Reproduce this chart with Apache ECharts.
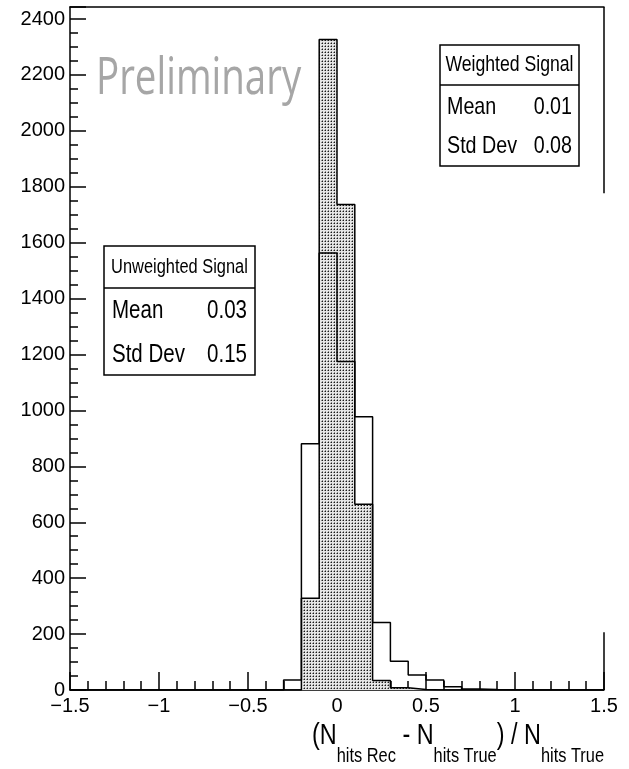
<!DOCTYPE html>
<html><head><meta charset="utf-8">
<script src="https://cdn.jsdelivr.net/npm/echarts@6/dist/echarts.min.js"></script>
<style>html,body{margin:0;padding:0;background:#fff}#c{width:629px;height:769px}</style>
</head><body><div id="c"></div>
<script>
// ---- data ----
const binEdges = [-1.5,-1.4,-1.3,-1.2,-1.1,-1.0,-0.9,-0.8,-0.7,-0.6,-0.5,-0.4,-0.3,-0.2,-0.1,0.0,0.1,0.2,0.3,0.4,0.5,0.6,0.7,0.8,0.9,1.0,1.1,1.2,1.3,1.4,1.5];
const unweightedCounts = [0,0,0,0,0,0,0,0,0,0,0,0,36,881,1563,1175,977,241,103,54,36,12,4,2,1,0,0,0,0,0];
const weightedCounts   = [0,0,0,0,0,0,0,0,0,0,0,0,0,328,2327,1737,664,34,8,2,0,0,0,0,0,0,0,0,0,0];
const xTickValues = [-1.5,-1,-0.5,0,0.5,1,1.5];
const xTickLabels = ['\u22121.5','\u22121','\u22120.5','0','0.5','1','1.5'];
const yTickLabels = ['0','200','400','600','800','1000','1200','1400','1600','1800','2000','2200','2400'];
const yMax = 2443;
const frameRightSegments = [[0,207],[1777,2443]];
const weightedStats = {title:'Weighted Signal', mean:'0.01', std:'0.08'};
const unweightedStats = {title:'Unweighted Signal', mean:'0.03', std:'0.15'};

function stepData(counts){
  const d = counts.map((v,i)=>[binEdges[i], v]);
  d.push([binEdges[binEdges.length-1], 0]);
  return d;
}
function dotPattern(){
  const c = document.createElement('canvas'); c.width = 3; c.height = 3;
  const g = c.getContext('2d');
  g.fillStyle = '#e6e6e6'; g.fillRect(0,0,3,3);
  g.fillStyle = '#1a1a1a';
  g.fillRect(1,1,1,1);
  g.fillStyle = '#8a8a8a';
  g.fillRect(0,1,1,1); g.fillRect(1,0,1,1);
  return c;
}
const SANS = '"Liberation Sans",Arial,sans-serif';
const SX = 0.82;

function txt(x, y, text, size, align, extra){
  return Object.assign({type:'text', x:x, y:y, scaleX:SX, scaleY:1,
    style:{text:text, fontFamily:SANS, fontSize:size, fill:'#000', align:align, verticalAlign:'middle'}, z:11}, extra||{});
}
function statBox(s, x, y, w, h, divY, titleSize, bodySize, rowY1, rowY2, pad){
  return [
    {type:'rect', shape:{x:x, y:y, width:w, height:h}, style:{fill:'#fff', stroke:'#000', lineWidth:1.5}, z:10},
    {type:'line', shape:{x1:x, y1:divY, x2:x+w, y2:divY}, style:{stroke:'#000', lineWidth:1.5}, z:11},
    txt(x+w/2, (y+divY)/2, s.title, titleSize, 'center'),
    txt(x+pad, rowY1, 'Mean', bodySize, 'left'),
    txt(x+w-pad, rowY1, s.mean, bodySize, 'right'),
    txt(x+pad, rowY2, 'Std Dev', bodySize, 'left'),
    txt(x+w-pad, rowY2, s.std, bodySize, 'right')
  ];
}

const chart = echarts.init(document.getElementById('c'), null, {renderer:'canvas'});
const option = {
  animation:false,
  backgroundColor:'#fff',
  grid:{left:70, right:25, top:7, bottom:79},
  xAxis:[
    {type:'value', min:-1.5, max:1.5, interval:0.5, position:'bottom',
     axisLine:{show:true, onZero:false, lineStyle:{color:'#000', width:1.5}},
     axisTick:{show:true, inside:true, length:18, lineStyle:{color:'#000', width:1.5}},
     minorTick:{show:true, splitNumber:5, length:9, lineStyle:{color:'#000', width:1.5}},
     splitLine:{show:false},
     axisLabel:{margin:6, color:'#000', fontFamily:SANS, fontSize:20,
       formatter:function(v){ for(let i=0;i<xTickValues.length;i++){ if(Math.abs(xTickValues[i]-v)<1e-6) return xTickLabels[i]; } return ''; }}
    },
    {type:'value', min:-1.5, max:1.5, position:'top',
     axisLine:{show:true, onZero:false, lineStyle:{color:'#000', width:1.5}},
     axisTick:{show:false}, axisLabel:{show:false}, splitLine:{show:false}}
  ],
  yAxis:[
    {type:'value', min:0, max:yMax, interval:200, position:'left',
     axisLine:{show:true, onZero:false, lineStyle:{color:'#000', width:1.5}},
     axisTick:{show:true, inside:true, length:16, lineStyle:{color:'#000', width:1.5}},
     splitLine:{show:false},
     axisLabel:{margin:5, color:'#000', fontFamily:SANS, fontSize:20,
       formatter:function(v){ const i = Math.round(v/200); return (Math.abs(v - i*200)<1e-6 && i<yTickLabels.length) ? yTickLabels[i] : ''; }}
    },
    {type:'value', min:0, max:yMax, interval:50, position:'left', offset:0,
     axisLine:{show:false, onZero:false},
     axisTick:{show:true, inside:true, length:8, lineStyle:{color:'#000', width:1.5}},
     axisLabel:{show:false}, splitLine:{show:false}}
  ],
  series:[
    {name:'Weighted Signal', type:'line', step:'end', symbol:'none', xAxisIndex:0, yAxisIndex:0,
     data:stepData(weightedCounts),
     lineStyle:{color:'#000', width:1.5},
     areaStyle:{color:{image:dotPattern(), repeat:'repeat'}, opacity:1},
     z:2,
     markLine:{silent:true, symbol:'none', label:{show:false},
       lineStyle:{color:'#000', width:1.5, type:'solid'},
       data:frameRightSegments.map(s=>[{coord:[binEdges[binEdges.length-1], s[0]]},{coord:[binEdges[binEdges.length-1], s[1]]}])}
    },
    {name:'Unweighted Signal', type:'line', step:'end', symbol:'none', xAxisIndex:0, yAxisIndex:0,
     data:stepData(unweightedCounts),
     lineStyle:{color:'#000', width:1.5},
     z:3}
  ],
  graphic:[
    {type:'text', x:96, y:53, scaleX:0.74, scaleY:1, style:{text:'Preliminary', fontFamily:'"Open Sans",sans-serif', fontSize:52, fill:'#a6a6a6', align:'left', verticalAlign:'top'}, z:5},
    ...statBox(weightedStats, 440, 45, 139, 121, 85, 21.5, 24, 107, 146, 7),
    ...statBox(unweightedStats, 104, 246, 151, 129, 288, 20, 25, 311, 355, 8),
    {type:'text', x:604, y:721, scaleX:0.78, scaleY:1,
     style:{text:'{m|(N}{s|hits Rec}{m| - N}{s|hits True}{m|) / N}{s|hits True}',
       fill:'#000', align:'right', verticalAlign:'top',
       rich:{
         m:{fontFamily:SANS, fontSize:30, verticalAlign:'top', fill:'#000'},
         s:{fontFamily:SANS, fontSize:21, verticalAlign:'top', padding:[25,0,0,0], fill:'#000'}
       }}, z:5}
  ]
};
chart.setOption(option);
</script>
</body></html>
